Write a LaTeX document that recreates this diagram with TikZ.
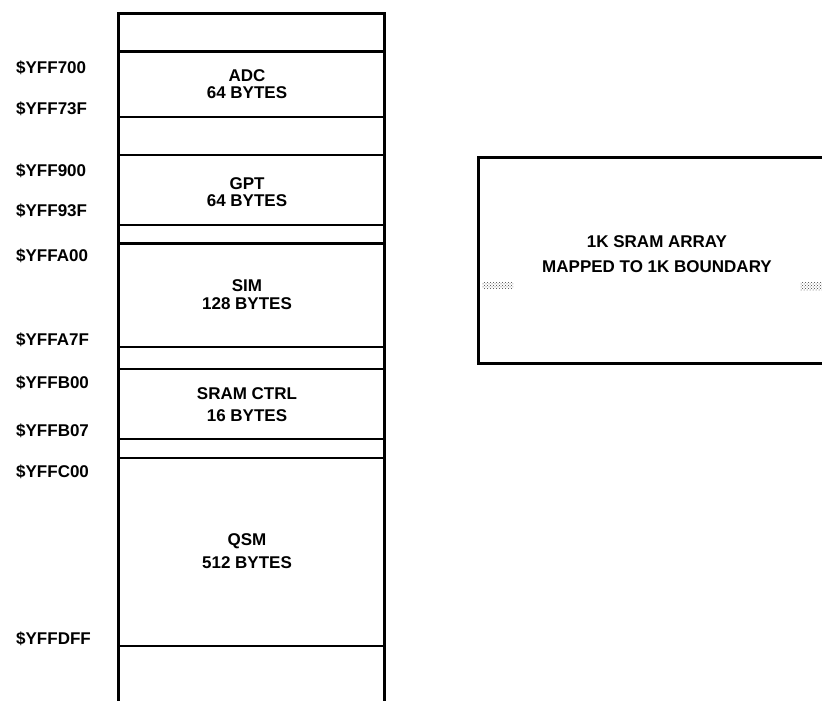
\documentclass[tikz,border=0pt]{standalone}
\usepackage{fontspec}
\setmainfont{Liberation Sans}
\usetikzlibrary{patterns}
\tikzset{
  wall/.style={line width=3pt},
  divider/.style={line width=2.6pt},
  addr/.style={anchor=west, inner sep=0pt, font=\fontsize{17}{17}\selectfont\bfseries},
  blocktext/.style={align=center, inner sep=0pt, font=\fontsize{17}{17}\selectfont\bfseries},
  widetext/.style={align=center, inner sep=0pt, font=\fontsize{17}{22}\selectfont\bfseries},
  halftone/.style={pattern=crosshatch dots, pattern color=black!75}
}
\begin{document}
\begin{tikzpicture}[x=1pt,y=-1pt]
\useasboundingbox (0,0) rectangle (822,701);
\fill[white] (0,0) rectangle (822,701);
\clip (0,0) rectangle (822,701);
% memory column
\coordinate (tl) at (118,13.5);
\coordinate (tr) at (384.5,13.5);
\coordinate (bl) at (118,705);
\coordinate (br) at (384.5,705);
\draw[wall] (bl) -- (tl) -- (tr) -- (br);
\foreach \yy in {51.5,117,155,225,243.5,347,369,439,458,646}{
  \draw[divider] (118,\yy) -- (384.5,\yy);
}
% block texts
\node[blocktext] (adc)  at (247,84)  {ADC\\64 BYTES};
\node[blocktext] (gpt)  at (247,192) {GPT\\64 BYTES};
\node[blocktext,font=\fontsize{17}{18}\selectfont\bfseries] (sim)  at (247,295) {SIM\\128 BYTES};
\node[widetext]  (sram) at (247,405) {SRAM CTRL\\16 BYTES};
\node[widetext,font=\fontsize{17}{23}\selectfont\bfseries]  (qsm)  at (247,551) {QSM\\512 BYTES};
% addresses
\node[addr] (a1)  at (16,67.5) {\$YFF700};
\node[addr] (a2)  at (16,109)  {\$YFF73F};
\node[addr] (a3)  at (16,170.5){\$YFF900};
\node[addr] (a4)  at (16,211)  {\$YFF93F};
\node[addr] (a5)  at (16,256)  {\$YFFA00};
\node[addr] (a6)  at (16,340)  {\$YFFA7F};
\node[addr] (a7)  at (16,383)  {\$YFFB00};
\node[addr] (a8)  at (16,431)  {\$YFFB07};
\node[addr] (a9)  at (16,471.5){\$YFFC00};
\node[addr] (a10) at (16,639)  {\$YFFDFF};
% SRAM array box
\draw[wall] (840,157) -- (478,157) -- (478,363) -- (840,363);
\node[widetext,font=\fontsize{17}{25}\selectfont\bfseries] (sramarray) at (657,254) {1K SRAM ARRAY\\MAPPED TO 1K BOUNDARY};
\fill[halftone] (482,282) rectangle (513,288);
\fill[halftone] (800,282) rectangle (822,290);
\end{tikzpicture}
\end{document}
